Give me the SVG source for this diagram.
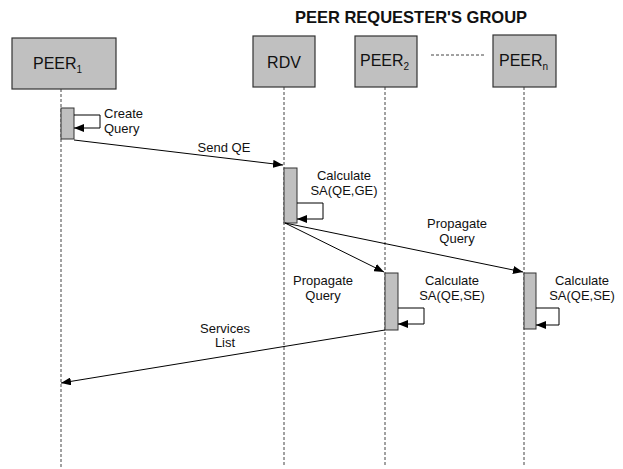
<svg xmlns="http://www.w3.org/2000/svg" width="623" height="469" viewBox="0 0 623 469">
<style>
.box{fill:#c0c0c0;stroke:#333;stroke-width:1.2}
.bar{fill:#c0c0c0;stroke:#333;stroke-width:1}
.life{stroke:#444;stroke-width:1;stroke-dasharray:3,2;fill:none}
.msg{stroke:#000;stroke-width:1;fill:none;marker-end:url(#ah)}
.t{font-family:"Liberation Sans",Arial,sans-serif;fill:#111}
.lbl{font-size:16px}
.sub{font-size:10px}
.s{font-size:13px}
</style>
<defs>
<marker id="ah" markerWidth="10" markerHeight="8" refX="10" refY="4" orient="auto" markerUnits="userSpaceOnUse">
<path d="M0,0 L10,4 L0,8 Z" fill="#000"/>
</marker>
</defs>
<text class="t" x="411" y="23" text-anchor="middle" font-size="16.5" font-weight="bold">PEER REQUESTER'S GROUP</text>
<g id="lifelines">
<line class="life" x1="61" y1="89" x2="61" y2="467"/>
<line class="life" x1="284" y1="87" x2="284" y2="467"/>
<line class="life" x1="385" y1="87" x2="385" y2="467"/>
<line class="life" x1="524" y1="87" x2="524" y2="467"/>
<line class="life" x1="431" y1="55" x2="486" y2="55"/>
</g>
<g id="peer1">
<rect class="box" x="12" y="38" width="104" height="51"/>
<text class="t lbl" x="33" y="69">PEER<tspan class="sub" dy="4">1</tspan></text>
</g>
<g id="rdv">
<rect class="box" x="253" y="36" width="62" height="51"/>
<text class="t lbl" x="284" y="68" text-anchor="middle">RDV</text>
</g>
<g id="peer2">
<rect class="box" x="355" y="36" width="62" height="51"/>
<text class="t lbl" x="360" y="66">PEER<tspan class="sub" dy="4">2</tspan></text>
</g>
<g id="peern">
<rect class="box" x="493" y="35" width="63" height="52"/>
<text class="t lbl" x="499" y="66">PEER<tspan class="sub" dy="4">n</tspan></text>
</g>
<g id="bars">
<rect class="bar" x="61" y="108" width="13" height="31"/>
<rect class="bar" x="284" y="168" width="13" height="55"/>
<rect class="bar" x="385" y="273" width="13" height="57"/>
<rect class="bar" x="524" y="273" width="12" height="56"/>
</g>
<g id="connectors">
<path class="msg" d="M74,115 H100 V128 H74"/>
<path class="msg" d="M74,140 L283,165"/>
<path class="msg" d="M297,203 H323 V219 H297"/>
<path class="msg" d="M285,223 L384,272"/>
<path class="msg" d="M285,223 L523,272"/>
<path class="msg" d="M398,308 H424 V324 H398"/>
<path class="msg" d="M536,308 H559 V325 H536"/>
<path class="msg" d="M385,330 L61,383"/>
</g>
<g id="labels" class="t s">
<text x="104" y="118">Create</text>
<text x="104" y="132.5">Query</text>
<text x="224" y="152" text-anchor="middle">Send QE</text>
<text x="344" y="180" text-anchor="middle">Calculate</text>
<text x="344" y="195" text-anchor="middle">SA(QE,GE)</text>
<text x="457" y="228" text-anchor="middle">Propagate</text>
<text x="457" y="243" text-anchor="middle">Query</text>
<text x="323" y="285" text-anchor="middle">Propagate</text>
<text x="323" y="300" text-anchor="middle">Query</text>
<text x="452" y="285" text-anchor="middle">Calculate</text>
<text x="452" y="300" text-anchor="middle">SA(QE,SE)</text>
<text x="582" y="285" text-anchor="middle">Calculate</text>
<text x="582" y="300" text-anchor="middle">SA(QE,SE)</text>
<text x="225" y="333" text-anchor="middle">Services</text>
<text x="225" y="347" text-anchor="middle">List</text>
</g>
</svg>
